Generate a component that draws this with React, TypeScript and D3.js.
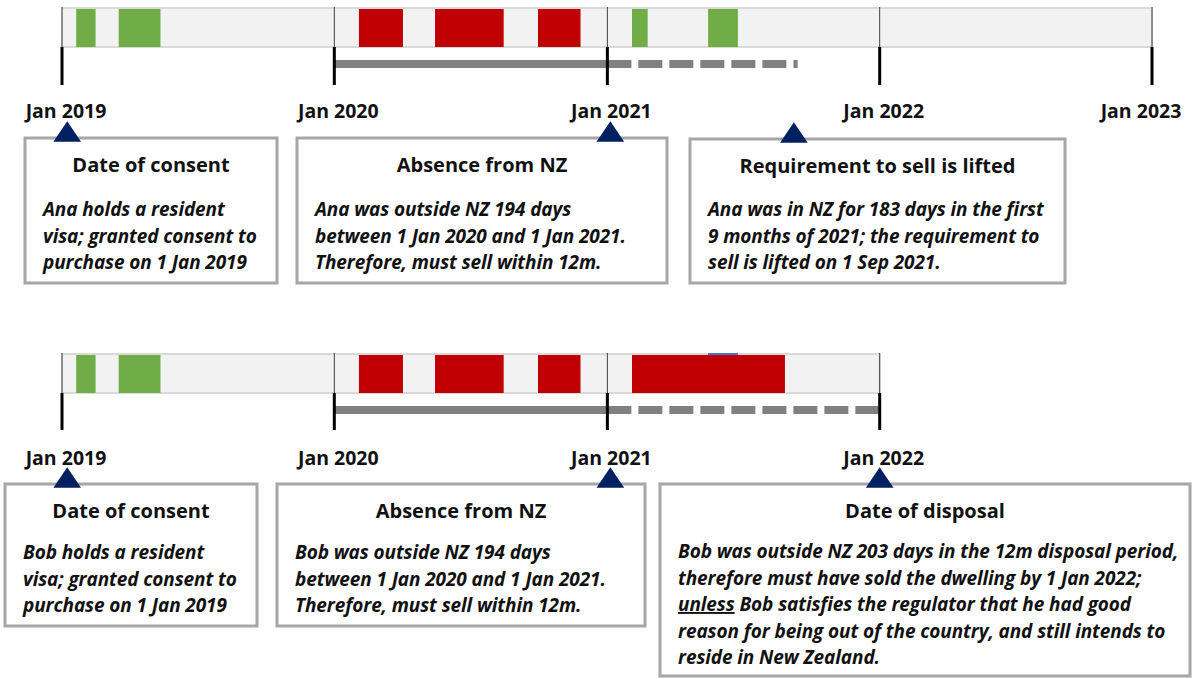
import { useRef, useEffect } from "react";
import * as d3 from "d3";

// timeline ticks
const yearTicks = ["2019-01-01", "2020-01-01", "2021-01-01", "2022-01-01", "2023-01-01"];
const bobTicks = ["2019-01-01", "2020-01-01", "2021-01-01", "2022-01-01"];

// periods in NZ (green) and outside NZ (red)
const anaInNZ = [
  ["2019-01-20", "2019-02-15"],
  ["2019-03-18", "2019-05-13"],
  ["2021-02-03", "2021-02-24"],
  ["2021-05-16", "2021-06-25"],
];
const anaAbsent = [
  ["2020-02-03", "2020-04-02"],
  ["2020-05-15", "2020-08-15"],
  ["2020-09-30", "2020-11-26"],
];
const bobInNZ = [
  ["2019-01-20", "2019-02-15"],
  ["2019-03-18", "2019-05-13"],
];
const bobHidden = [["2021-05-16", "2021-06-25"]];
const bobAbsent = [
  ["2020-02-03", "2020-04-02"],
  ["2020-05-15", "2020-08-15"],
  ["2020-09-30", "2020-11-26"],
  ["2021-02-03", "2021-08-27"],
];

// measurement periods: solid = counted year, dashed = disposal period
const anaSolid = ["2020-01-01", "2021-01-01"];
const anaDashed = ["2021-01-01", "2021-09-13"];
const bobSolid = ["2020-01-01", "2021-01-01"];
const bobDashed = ["2021-01-01", "2022-01-01"];

// event markers
const anaMarkers = ["2019-01-08", "2021-01-05", "2021-09-08"];
const bobMarkers = ["2019-01-08", "2021-01-05", "2022-01-01"];

const anaTitles = ["Date of consent", "Absence from NZ", "Requirement to sell is lifted"];
const anaTexts = [
  ["Ana holds a resident", "visa; granted consent to", "purchase on 1 Jan 2019"],
  ["Ana was outside NZ 194 days", "between 1 Jan 2020 and 1 Jan 2021.", "Therefore, must sell within 12m."],
  ["Ana was in NZ for 183 days in the first", "9 months of 2021; the requirement to", "sell is lifted on 1 Sep 2021."],
];
const bobTitles = ["Date of consent", "Absence from NZ", "Date of disposal"];
const bobTexts = [
  ["Bob holds a resident", "visa; granted consent to", "purchase on 1 Jan 2019"],
  ["Bob was outside NZ 194 days", "between 1 Jan 2020 and 1 Jan 2021.", "Therefore, must sell within 12m."],
  [
    "Bob was outside NZ 203 days in the 12m disposal period,",
    "therefore must have sold the dwelling by 1 Jan 2022;",
    "_unless_ Bob satisfies the regulator that he had good",
    "reason for being out of the country, and still intends to",
    "reside in New Zealand.",
  ],
];

const W = 1194;
const H = 679;
const FONT = "'Open Sans', Lato, sans-serif";

const App = () => {
  const ref = useRef<SVGSVGElement>(null);

  useEffect(() => {
    if (!ref.current) return;
    const svg = d3.select(ref.current);
    svg.selectAll("*").remove();

    const parse = d3.timeParse("%Y-%m-%d");
    const x = d3
      .scaleTime()
      .domain([parse("2019-01-01")!, parse("2023-01-01")!])
      .range([62, 1152]);
    const px = (s: string) => x(parse(s)!);
    const fmt = d3.timeFormat("%b %Y");

    const drawRow = (
      g: d3.Selection<SVGGElement, unknown, null, undefined>,
      o: {
        ticks: string[];
        green: string[][];
        red: string[][];
        hidden: string[][];
        solid: string[];
        dashed: string[];
        barY: number;
        barH: number;
        tickEnd: number;
        lineY: number;
        labelY: number;
      }
    ) => {
      const x0 = px(o.ticks[0]);
      const x1 = px(o.ticks[o.ticks.length - 1]);
      g.append("rect")
        .attr("x", x0)
        .attr("y", o.barY)
        .attr("width", x1 - x0)
        .attr("height", o.barH)
        .attr("fill", "#f2f2f2")
        .attr("stroke", "#d9d9d9")
        .attr("stroke-width", 2);

      g.selectAll("rect.hid")
        .data(o.hidden)
        .join("rect")
        .attr("class", "hid")
        .attr("x", (d) => px(d[0]))
        .attr("y", o.barY - 1)
        .attr("width", (d) => px(d[1]) - px(d[0]))
        .attr("height", 3)
        .attr("fill", "#4472c4");

      g.selectAll("rect.green")
        .data(o.green)
        .join("rect")
        .attr("class", "green")
        .attr("x", (d) => px(d[0]))
        .attr("y", o.barY + 1)
        .attr("width", (d) => px(d[1]) - px(d[0]))
        .attr("height", o.barH - 1)
        .attr("fill", "#70ad47");

      g.selectAll("rect.red")
        .data(o.red)
        .join("rect")
        .attr("class", "red")
        .attr("x", (d) => px(d[0]))
        .attr("y", o.barY + 1)
        .attr("width", (d) => px(d[1]) - px(d[0]))
        .attr("height", o.barH - 1)
        .attr("fill", "#c00000");

      // thin year separators inside the bar
      g.selectAll("line.sep")
        .data(o.ticks)
        .join("line")
        .attr("class", "sep")
        .attr("x1", (d) => px(d))
        .attr("x2", (d) => px(d))
        .attr("y1", o.barY - 1)
        .attr("y2", o.barY + o.barH)
        .attr("stroke", "#404040")
        .attr("stroke-width", 1);

      // measurement periods
      g.append("line")
        .attr("x1", px(o.solid[0]))
        .attr("x2", px(o.solid[1]))
        .attr("y1", o.lineY)
        .attr("y2", o.lineY)
        .attr("stroke", "#808080")
        .attr("stroke-width", 8);
      g.append("line")
        .attr("x1", px(o.dashed[0]))
        .attr("x2", px(o.dashed[1]))
        .attr("y1", o.lineY)
        .attr("y2", o.lineY)
        .attr("stroke", "#808080")
        .attr("stroke-width", 8)
        .attr("stroke-dasharray", "24 7");

      // thick ticks below
      g.selectAll("line.tick")
        .data(o.ticks)
        .join("line")
        .attr("class", "tick")
        .attr("x1", (d) => px(d))
        .attr("x2", (d) => px(d))
        .attr("y1", o.barY + o.barH)
        .attr("y2", o.tickEnd)
        .attr("stroke", "#000")
        .attr("stroke-width", 3);

      g.selectAll("text.lab")
        .data(o.ticks)
        .join("text")
        .attr("class", "lab")
        .attr("x", (d) => Math.min(px(d) + 4, 1141))
        .attr("y", o.labelY)
        .attr("text-anchor", "middle")
        .attr("font-family", FONT)
        .attr("font-weight", "bold")
        .attr("font-size", 19.5)
        .attr("fill", "#111")
        .text((d) => fmt(parse(d)!));
    };

    const drawCards = (
      g: d3.Selection<SVGGElement, unknown, null, undefined>,
      boxes: { x: number; y: number; w: number; h: number; bodyY: number }[],
      titles: string[],
      texts: string[][],
      markers: string[]
    ) => {
      boxes.forEach((b, i) => {
        g.append("rect")
          .attr("x", b.x)
          .attr("y", b.y)
          .attr("width", b.w)
          .attr("height", b.h)
          .attr("fill", "#fff")
          .attr("stroke", "#a6a6a6")
          .attr("stroke-width", 3);
        g.append("text")
          .attr("x", b.x + b.w / 2)
          .attr("y", b.y + 34)
          .attr("text-anchor", "middle")
          .attr("font-family", FONT)
          .attr("font-weight", "bold")
          .attr("font-size", 20)
          .attr("fill", "#111")
          .text(titles[i]);
        const t = g
          .append("text")
          .attr("font-family", FONT)
          .attr("font-weight", "bold")
          .attr("font-style", "italic")
          .attr("font-size", 19)
          .attr("letter-spacing", -0.1)
          .attr("fill", "#111");
        texts[i].forEach((line, j) => {
          const parts = line.split("_");
          const row = t
            .append("tspan")
            .attr("x", b.x + 18)
            .attr("y", b.y + b.bodyY + j * 26.5);
          if (parts.length === 1) {
            row.text(line);
          } else {
            row.append("tspan").attr("text-decoration", "underline").text(parts[1]);
            row.append("tspan").text(parts[2]);
          }
        });
      });
      const tri = d3.symbol().type(d3.symbolTriangle).size(300);
      g.selectAll("path.mark")
        .data(markers)
        .join("path")
        .attr("class", "mark")
        .attr("d", () => tri()!)
        .attr("transform", (d, i) => `translate(${px(d)},${boxes[i].y - 3}) scale(1.05,0.9)`)
        .attr("fill", "#002060");
    };

    const top = svg.append("g");
    drawRow(top, {
      ticks: yearTicks,
      green: anaInNZ,
      red: anaAbsent,
      hidden: [],
      solid: anaSolid,
      dashed: anaDashed,
      barY: 8,
      barH: 39,
      tickEnd: 85,
      lineY: 64,
      labelY: 118,
    });
    drawCards(
      top,
      [
        { x: 25, y: 138, w: 252, h: 145, bodyY: 78 },
        { x: 297, y: 138, w: 370, h: 145, bodyY: 78 },
        { x: 690, y: 139, w: 375, h: 144, bodyY: 77 },
      ],
      anaTitles,
      anaTexts,
      anaMarkers
    );

    const bottom = svg.append("g");
    drawRow(bottom, {
      ticks: bobTicks,
      green: bobInNZ,
      red: bobAbsent,
      hidden: bobHidden,
      solid: bobSolid,
      dashed: bobDashed,
      barY: 354,
      barH: 39,
      tickEnd: 430,
      lineY: 410,
      labelY: 465,
    });
    drawCards(
      bottom,
      [
        { x: 5, y: 484, w: 252, h: 142, bodyY: 75 },
        { x: 277, y: 484, w: 368, h: 142, bodyY: 75 },
        { x: 660, y: 484, w: 530, h: 192, bodyY: 74 },
      ],
      bobTitles,
      bobTexts,
      bobMarkers
    );
  }, []);

  return (
    <svg
      ref={ref}
      width={W}
      height={H}
      style={{ position: "absolute", left: 0, top: 0, background: "#fff" }}
    ></svg>
  );
};

export default App;
